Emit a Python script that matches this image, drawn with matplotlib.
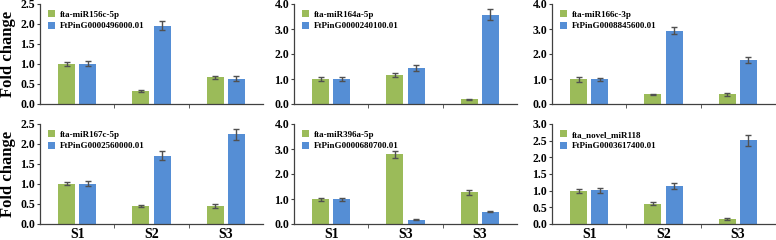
import matplotlib
matplotlib.use("Agg")
import matplotlib.pyplot as plt
import numpy as np

plt.rcParams['font.family'] = ['Liberation Serif', 'DejaVu Serif']
plt.rcParams['font.weight'] = 'bold'

groups_a = ["S1", "S2", "S3"]
groups_b = ["S1", "S3", "S3"]

mir_names = ["fta-miR156c-5p", "fta-miR164a-5p", "fta-miR166c-3p",
             "fta-miR167c-5p", "fta-miR396a-5p", "fta_novel_miR118"]
gene_names = ["FtPinG0000496000.01", "FtPinG0000240100.01", "FtPinG0008845600.01",
              "FtPinG0002560000.01", "FtPinG0000680700.01", "FtPinG0003617400.01"]

mir_vals = [[1.0, 0.32, 0.67], [1.01, 1.18, 0.19], [0.99, 0.39, 0.39],
            [1.01, 0.45, 0.44], [0.99, 2.80, 1.27], [0.99, 0.61, 0.15]]
mir_err = [[0.05, 0.02, 0.04], [0.07, 0.08, 0.02], [0.11, 0.02, 0.05],
           [0.04, 0.02, 0.05], [0.07, 0.14, 0.09], [0.05, 0.05, 0.02]]
gene_vals = [[1.01, 1.96, 0.63], [1.0, 1.43, 3.58], [0.99, 2.94, 1.76],
             [1.01, 1.71, 2.24], [0.99, 0.17, 0.49], [1.01, 1.14, 2.51]]
gene_err = [[0.07, 0.12, 0.06], [0.09, 0.12, 0.22], [0.06, 0.15, 0.11],
            [0.07, 0.11, 0.14], [0.06, 0.02, 0.02], [0.07, 0.10, 0.16]]

y_max = [2.5, 4.0, 4.0, 2.5, 4.0, 3.0]
y_step = [0.5, 1.0, 1.0, 0.5, 1.0, 0.5]
x_labels = [groups_a, groups_a, groups_a, groups_a, groups_b, groups_a]

green = "#9BBB59"
blue = "#558ED5"
axc = "#404040"

fig = plt.figure(figsize=(7.76, 2.4), dpi=100)
lefts = [40/776, 294/776, 552/776]
w = 223/776
bottoms = [136/240, 16/240]
h = 100/240

for i in range(6):
    r, c = divmod(i, 3)
    ax = fig.add_axes([lefts[c], bottoms[r], w, h])
    x = np.arange(3)
    bw = 0.23
    off = 0.142
    ax.bar(x - off, mir_vals[i], bw, color=green, label=mir_names[i], zorder=2)
    ax.bar(x + off, gene_vals[i], bw, color=blue, label=gene_names[i], zorder=2)
    ekw = dict(fmt='none', ecolor='#505050', elinewidth=1, capsize=2.5, capthick=1, zorder=3)
    ax.errorbar(x - off, mir_vals[i], yerr=mir_err[i], **ekw)
    ax.errorbar(x + off, gene_vals[i], yerr=gene_err[i], **ekw)
    ax.set_xlim(-0.5, 2.5)
    ax.set_ylim(0, y_max[i])
    ticks = np.arange(0, y_max[i] + 1e-9, y_step[i])
    ax.set_yticks(ticks)
    ax.set_yticklabels([f"{t:.1f}" for t in ticks], fontsize=8.5, fontweight='bold')
    ax.set_xticks(x)
    if r == 1:
        ax.set_xticklabels(x_labels[i], fontsize=10, fontweight='bold')
    else:
        ax.set_xticklabels([])
    ax.tick_params(axis='x', which='major', length=0, pad=3)
    ax.set_xticks([0.5, 1.5], minor=True)
    ax.tick_params(axis='x', which='minor', length=3, color=axc, direction='out')
    ax.tick_params(axis='y', length=2.5, color=axc, direction='out', pad=1)
    for s in ['top', 'right']:
        ax.spines[s].set_visible(False)
    for s in ['left', 'bottom']:
        ax.spines[s].set_color(axc)
        ax.spines[s].set_linewidth(0.9)
    if c == 0:
        ax.set_ylabel("Fold change", fontsize=12, fontweight='bold', labelpad=3)
    leg = ax.legend(loc='upper left', bbox_to_anchor=(0.01, 0.99), frameon=False,
                    prop={'size': 6.5, 'weight': 'bold'}, handlelength=0.8,
                    handleheight=0.8, handletextpad=0.6, labelspacing=0.3,
                    borderaxespad=0.2)

fig.savefig("out.png", dpi=100)
